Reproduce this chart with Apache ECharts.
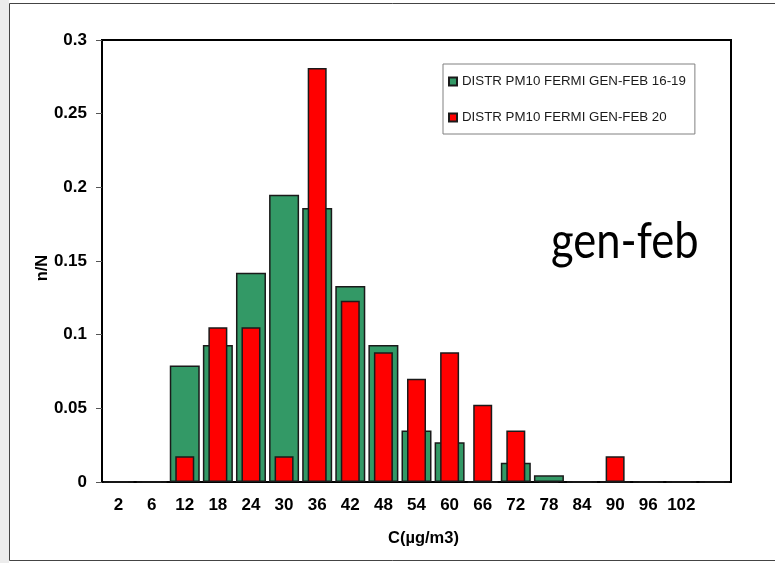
<!DOCTYPE html>
<html lang="it">
<head>
  <meta charset="UTF-8">
  <title>gen-feb</title>
  <script src="https://cdn.jsdelivr.net/npm/echarts@6/dist/echarts.min.js"></script>
  <style>
    html, body { margin: 0; padding: 0; background: #fff; }
    #main { width: 775px; height: 563px; }
  </style>
</head>
<body>
<div id="main"></div>
<script>
  // classi di concentrazione (ultima classe vuota, senza etichetta)
  const classes = ['2', '6', '12', '18', '24', '30', '36', '42', '48', '54', '60', '66', '72', '78', '84', '90', '96', '102', ''];
  const distr1619 = [0, 0, 0.079, 0.093, 0.142, 0.195, 0.186, 0.133, 0.093, 0.035, 0.027, 0, 0.013, 0.0045, 0, 0, 0, 0, 0];
  const distr20 = [0, 0, 0.0175, 0.105, 0.105, 0.0175, 0.281, 0.123, 0.088, 0.070, 0.088, 0.0525, 0.035, 0, 0, 0.0175, 0, 0, 0];
  const name1619 = 'DISTR PM10 FERMI GEN-FEB 16-19';
  const name20 = 'DISTR PM10 FERMI GEN-FEB 20';

  const font = 'Liberation Sans, Arial, sans-serif';
  const chart = echarts.init(document.getElementById('main'));

  chart.setOption({
    animation: false,
    backgroundColor: '#fff',
    graphic: [
      { type: 'rect', left: 0, top: 0, shape: { width: 9, height: 563 }, style: { fill: '#ececec' }, silent: true },
      { type: 'rect', shape: { x: 9.5, y: 3.5, width: 775, height: 557 }, style: { fill: null, stroke: '#444', lineWidth: 1 }, silent: true },
      {
        type: 'text', x: 551, y: 217, scaleX: 0.87,
        style: { text: 'gen-feb', font: '50px Lato, "Open Sans", sans-serif', fill: '#000' }
      },
      {
        // titolo asse y
        type: 'text', x: 42, y: 268, rotation: Math.PI / 2,
        style: { text: 'n/N', font: 'bold 16.5px ' + font, fill: '#000', align: 'center', verticalAlign: 'middle' }
      }
    ],
    legend: {
      data: [name1619, name20],
      orient: 'vertical',
      left: 443,
      top: 64,
      padding: [11, 9, 10, 5],
      itemGap: 23,
      itemWidth: 8,
      itemHeight: 8,
      icon: 'rect',
      borderColor: '#808080',
      borderWidth: 1,
      backgroundColor: '#fff',
      textStyle: { fontFamily: font, fontSize: 13.3, color: '#1a1a1a' }
    },
    grid: {
      left: 102, right: 44, top: 40, bottom: 81,
      show: true, borderColor: '#000', borderWidth: 2, backgroundColor: '#fff'
    },
    xAxis: [
      {
        type: 'category',
        data: classes,
        name: 'C(µg/m3)',
        nameLocation: 'middle',
        nameGap: 48,
        nameTextStyle: { fontFamily: font, fontSize: 16.5, fontWeight: 'bold', color: '#000', padding: [0, 0, 0, 14] },
        axisLine: { lineStyle: { color: '#000', width: 2 } },
        axisTick: { length: 5, lineStyle: { color: '#666' } },
        axisLabel: { interval: 0, margin: 15, fontFamily: font, fontSize: 17, fontWeight: 'bold', color: '#000' }
      },
      { type: 'category', data: classes, show: false }
    ],
    yAxis: {
      type: 'value',
      min: 0,
      max: 0.3,
      interval: 0.05,
      axisLine: { show: true, lineStyle: { color: '#000', width: 2 } },
      axisTick: { show: true, length: 6, lineStyle: { color: '#555' } },
      axisLabel: { margin: 15, fontFamily: font, fontSize: 17, fontWeight: 'bold', color: '#000' },
      splitLine: { show: false }
    },
    series: [
      {
        name: name1619,
        type: 'bar',
        xAxisIndex: 0,
        barWidth: 30,
        itemStyle: { color: '#339966', borderColor: '#1a1a1a', borderWidth: 1.5 },
        data: distr1619
      },
      {
        name: name20,
        type: 'bar',
        xAxisIndex: 1,
        barWidth: 19,
        itemStyle: { color: '#ff0000', borderColor: '#1a1a1a', borderWidth: 1.5 },
        data: distr20
      }
    ]
  });
</script>
</body>
</html>
